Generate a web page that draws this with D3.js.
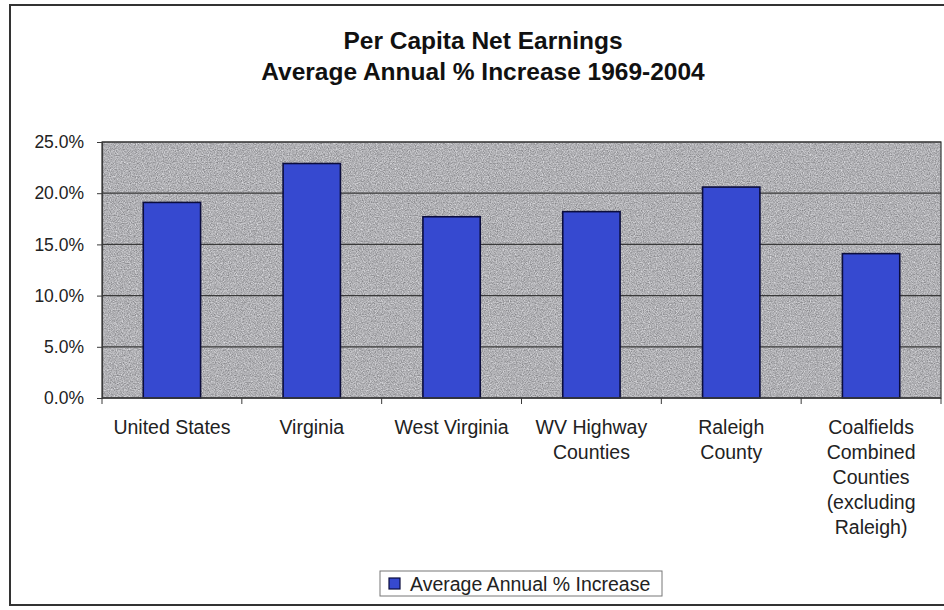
<!DOCTYPE html>
<html>
<head>
<meta charset="utf-8">
<script src="https://cdn.jsdelivr.net/npm/d3@7"></script>
<style>
  html, body { margin: 0; padding: 0; background: #fff; }
  svg { display: block; font-family: "Liberation Sans", Arial, sans-serif; }
</style>
</head>
<body>
<div id="chart"></div>
<script>
const categories = [
    ["United States"],
    ["Virginia"],
    ["West Virginia"],
    ["WV Highway", "Counties"],
    ["Raleigh", "County"],
    ["Coalfields", "Combined", "Counties", "(excluding", "Raleigh)"]
];
const increase = [0.191, 0.229, 0.177, 0.182, 0.206, 0.141];
const yTicks = [0, 0.05, 0.10, 0.15, 0.20, 0.25];
const titleLines = ["Per Capita Net Earnings", "Average Annual % Increase 1969-2004"];
const seriesName = "Average Annual % Increase";

const width = 944, height = 610;
const plot = { left: 102, right: 941, top: 142, bottom: 398 };

const svg = d3.select("#chart").append("svg").attr("width", width).attr("height", height);

// granite-like texture of the plot area
const defs = svg.append("defs");
const grain = defs.append("filter").attr("id", "grain").attr("x", 0).attr("y", 0).attr("width", "100%").attr("height", "100%")
    .attr("color-interpolation-filters", "sRGB");
grain.append("feTurbulence").attr("type", "fractalNoise").attr("baseFrequency", 0.85).attr("numOctaves", 2).attr("seed", 7).attr("result", "n");
grain.append("feColorMatrix").attr("in", "n").attr("type", "matrix")
    .attr("values", "0.5 0 0 0 0.44  0.5 0 0 0 0.44  0.5 0 0 0 0.455  0 0 0 0 1");

// outer frame
svg.append("rect").attr("x", 10).attr("y", 5).attr("width", 960).attr("height", 600)
    .attr("fill", "#fff").attr("stroke", "#333").attr("stroke-width", 2);

const keys = categories.map(c => c.join(" "));
const x = d3.scaleBand().domain(keys).range([plot.left, plot.right]).paddingInner(0.59).paddingOuter(0.295);
const xCat = d3.scaleBand().domain(keys).range([plot.left, plot.right]).padding(0);
const y = d3.scaleLinear().domain([0, 0.25]).range([plot.bottom, plot.top]);

// plot area
svg.append("rect").attr("x", plot.left).attr("y", plot.top)
    .attr("width", plot.right - plot.left).attr("height", plot.bottom - plot.top)
    .attr("fill", "#aaa").attr("filter", "url(#grain)");

// gridlines
svg.append("g").selectAll("line").data(yTicks.slice(1)).join("line")
    .attr("x1", plot.left).attr("x2", plot.right)
    .attr("y1", d => y(d)).attr("y2", d => y(d))
    .attr("stroke", "#3a3a3a").attr("stroke-width", 1.2);

svg.append("rect").attr("x", plot.left).attr("y", plot.top)
    .attr("width", plot.right - plot.left).attr("height", plot.bottom - plot.top)
    .attr("fill", "none").attr("stroke", "#3a3a3a").attr("stroke-width", 1.2);

// bars
svg.append("g").selectAll("rect").data(increase).join("rect")
    .attr("x", (d, i) => x(keys[i])).attr("width", x.bandwidth())
    .attr("y", d => y(d)).attr("height", d => y(0) - y(d))
    .attr("fill", "#3649d0").attr("stroke", "#0b0d3c").attr("stroke-width", 1.6);

// y axis
const yAxis = svg.append("g").attr("transform", `translate(${plot.left},0)`)
    .call(d3.axisLeft(y).tickValues(yTicks).tickFormat(d3.format(".1%")).tickSize(5).tickPadding(13));
yAxis.select(".domain").attr("stroke", "#3a3a3a").attr("stroke-width", 1.2);
yAxis.selectAll(".tick line").attr("stroke", "#3a3a3a");
yAxis.selectAll(".tick text").attr("fill", "#222").style("font-size", "17.5px").style("font-family", "Liberation Sans, Arial, sans-serif");

// x axis: ticks sit between categories
const xAxis = svg.append("g").attr("transform", `translate(0,${plot.bottom})`);
xAxis.append("line").attr("x1", plot.left).attr("x2", plot.right).attr("stroke", "#3a3a3a").attr("stroke-width", 1.4);
xAxis.selectAll("line.tk").data(keys.concat(["end"])).join("line").attr("class", "tk")
    .attr("x1", (d, i) => i < keys.length ? xCat(d) : plot.right)
    .attr("x2", (d, i) => i < keys.length ? xCat(d) : plot.right)
    .attr("y1", 0).attr("y2", 6).attr("stroke", "#3a3a3a");

const labels = svg.append("g").selectAll("text").data(categories).join("text")
    .attr("text-anchor", "middle").attr("fill", "#222").style("font-size", "19.5px")
    .attr("x", (d, i) => x(keys[i]) + x.bandwidth() / 2).attr("y", 434);
labels.selectAll("tspan").data(d => d).join("tspan")
    .attr("x", function () { return d3.select(this.parentNode).attr("x"); })
    .attr("dy", (d, i) => i === 0 ? 0 : 25)
    .text(d => d);

// title
svg.append("g").selectAll("text").data(titleLines).join("text")
    .attr("x", 483).attr("y", (d, i) => 49 + i * 31)
    .attr("text-anchor", "middle").attr("fill", "#111")
    .style("font-size", "24.5px").style("font-weight", "bold")
    .text(d => d);

// legend
const legend = svg.append("g");
legend.append("rect").attr("x", 380).attr("y", 571).attr("width", 282).attr("height", 25)
    .attr("fill", "#fff").attr("stroke", "#777").attr("stroke-width", 1);
legend.append("rect").attr("x", 389).attr("y", 578).attr("width", 11).attr("height", 11)
    .attr("fill", "#3649d0").attr("stroke", "#0b0d3c").attr("stroke-width", 1.2);
legend.append("text").attr("x", 410).attr("y", 591).attr("fill", "#222").style("font-size", "19.5px").text(seriesName);
</script>
</body>
</html>
